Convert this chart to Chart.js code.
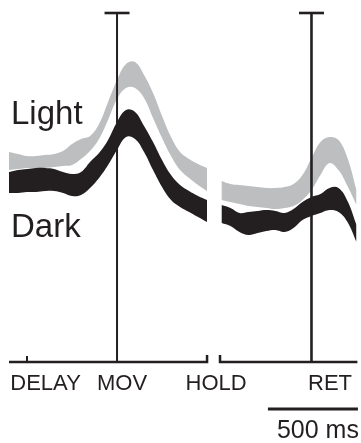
<!DOCTYPE html>
<html>
<head>
<meta charset="utf-8">
<script src="https://cdn.jsdelivr.net/npm/chart.js@4"></script>
<style>
  html, body { margin: 0; padding: 0; background: #ffffff; }
  #wrap { width: 361px; height: 443px; }
</style>
</head>
<body>
<div id="wrap"><canvas id="bandChart" width="361" height="443"></canvas></div>
<script>
// Time axis in ms, MOV = 0. The right block (around RET) is drawn after a small gap.
const leftTimes = [-600, -550, -500, -450, -400, -350, -300, -250, -200, -150, -100, -50,
                   0, 50, 100, 150, 200, 250, 300, 350, 400, 450, 500];
const rightTimes = [580, 630, 680, 730, 780, 830, 880, 930, 980, 1030, 1080, 1130, 1180, 1230, 1280, 1330];

// Light condition band (upper / lower edge)
const lightLeftHigh = [21.0, 20.8, 20.6, 20.6, 20.7, 20.8, 21.1, 21.8, 22.3, 22.6, 23.8, 26.0,
                       28.2, 29.8, 30.0, 28.7, 26.9, 24.6, 22.5, 21.0, 20.3, 19.8, 19.4];
const lightLeftLow = [19.2, 19.3, 19.4, 19.4, 19.4, 19.5, 19.6, 19.7, 20.3, 21.1, 22.3, 24.2,
                      26.3, 27.4, 27.4, 26.4, 24.4, 22.4, 20.6, 19.2, 18.4, 17.7, 17.1];
const lightRightHigh = [18.1, 17.8, 17.7, 17.6, 17.5, 17.4, 17.4, 17.5, 17.8, 18.7, 20.4, 22.0, 22.5, 22.2, 20.4, 17.2];
const lightRightLow = [16.2, 16.0, 15.8, 15.6, 15.5, 15.4, 15.3, 15.4, 15.6, 16.2, 17.2, 18.7, 19.9, 19.2, 17.6, 15.7];

// Dark condition band (upper / lower edge)
const darkLeftHigh = [19.0, 19.2, 19.3, 19.4, 19.4, 19.3, 19.0, 18.8, 19.0, 20.0, 20.9, 22.2,
                      24.0, 25.2, 25.0, 23.6, 22.0, 20.2, 18.7, 17.7, 17.1, 16.6, 16.2];
const darkLeftLow = [16.9, 16.9, 17.0, 17.0, 17.1, 17.1, 16.9, 16.6, 16.7, 17.4, 18.4, 19.7,
                     21.2, 22.5, 22.3, 21.0, 19.2, 17.5, 16.2, 15.5, 15.0, 14.5, 14.0];
const darkRightHigh = [15.7, 15.4, 14.9, 15.0, 15.1, 15.2, 15.1, 14.9, 15.3, 16.0, 16.5, 16.8, 17.4, 17.4, 16.1, 13.7];
const darkRightLow = [13.9, 13.6, 13.0, 12.7, 12.9, 13.1, 13.2, 13.0, 13.4, 14.2, 14.6, 14.9, 15.2, 15.0, 14.0, 12.0];

// Events and axis pieces
const eventNames = ['DELAY', 'MOV', 'HOLD', 'RET'];
const eventTimes = [-500, 0, 500, 1080];
const eventLabelTimes = [-397, 28, 550, 1183];
const axisSegments = [[-600, 500], [572, 1335]];
const scaleBar = [838, 1338];

const LIGHT = '#bcbec0';
const DARK = '#231f20';
const FONT = '"Liberation Sans", Arial, Helvetica, sans-serif';

function pts(xs, ys) {
    return xs.map((x, i) => ({ x: x, y: ys[i] }));
}

function band(xs, hi, lo, color) {
    return [
        {
            data: pts(xs, hi),
            borderWidth: 0,
            pointRadius: 0,
            backgroundColor: color,
            borderColor: color,
            tension: 0.4,
            fill: '+1'
        },
        {
            data: pts(xs, lo),
            borderWidth: 0,
            pointRadius: 0,
            borderColor: color,
            tension: 0.4,
            fill: false
        }
    ];
}

// Axis, event markers and text labels
const decorPlugin = {
    id: 'decor',
    afterDatasetsDraw(chart) {
        const { ctx, scales: { x, y } } = chart;
        const y0 = y.getPixelForValue(0);
        const yTop = y.getPixelForValue(34.9);
        ctx.save();
        ctx.strokeStyle = DARK;
        ctx.fillStyle = DARK;

        // baseline segments with end ticks
        ctx.lineWidth = 2.5;
        ctx.lineCap = 'butt';
        axisSegments.forEach((seg, i) => {
            const a = x.getPixelForValue(seg[0]);
            const b = x.getPixelForValue(seg[1]);
            ctx.beginPath();
            if (i === 0) {
                ctx.moveTo(a, y0);
                ctx.lineTo(b, y0);
                ctx.lineTo(b, y0 - 7);
            } else {
                ctx.moveTo(a, y0 - 7);
                ctx.lineTo(a, y0);
                ctx.lineTo(b, y0);
            }
            ctx.stroke();
        });

        // DELAY tick
        const xd = x.getPixelForValue(eventTimes[0]);
        ctx.lineWidth = 2;
        ctx.beginPath();
        ctx.moveTo(xd, y0);
        ctx.lineTo(xd, y0 - 6);
        ctx.stroke();

        // MOV and RET vertical lines with caps
        [[eventTimes[1], 2], [eventTimes[3], 2.6]].forEach(([t, w]) => {
            const xp = x.getPixelForValue(t);
            ctx.lineWidth = w;
            ctx.beginPath();
            ctx.moveTo(xp, y0);
            ctx.lineTo(xp, yTop);
            ctx.stroke();
            ctx.lineWidth = 2.6;
            ctx.beginPath();
            ctx.moveTo(xp - 12.5, yTop);
            ctx.lineTo(xp + 12.5, yTop);
            ctx.stroke();
        });

        // event labels
        ctx.font = '22px ' + FONT;
        ctx.textAlign = 'center';
        ctx.textBaseline = 'alphabetic';
        eventNames.forEach((name, i) => {
            ctx.fillText(name, x.getPixelForValue(eventLabelTimes[i]), y0 + 28);
        });

        // 500 ms scale bar
        const s0 = x.getPixelForValue(scaleBar[0]);
        const s1 = x.getPixelForValue(scaleBar[1]);
        ctx.lineWidth = 3;
        ctx.beginPath();
        ctx.moveTo(s0, y0 + 47);
        ctx.lineTo(s1, y0 + 47);
        ctx.stroke();
        ctx.font = '25px ' + FONT;
        ctx.textAlign = 'right';
        ctx.fillText('500 ms', s1 + 1, y0 + 76);

        // condition labels
        ctx.font = '33px ' + FONT;
        ctx.textAlign = 'left';
        ctx.fillText('Light', 11, 124);
        ctx.fillText('Dark', 11, 237);

        ctx.restore();
    }
};

const ctx = document.getElementById('bandChart').getContext('2d');
new Chart(ctx, {
    type: 'line',
    data: {
        datasets: [
            ...band(leftTimes, darkLeftHigh, darkLeftLow, DARK),
            ...band(rightTimes, darkRightHigh, darkRightLow, DARK),
            ...band(leftTimes, lightLeftHigh, lightLeftLow, LIGHT),
            ...band(rightTimes, lightRightHigh, lightRightLow, LIGHT)
        ]
    },
    plugins: [decorPlugin],
    options: {
        responsive: false,
        animation: false,
        layout: { padding: { left: 9, right: 0, top: 12, bottom: 81 } },
        plugins: {
            legend: { display: false },
            tooltip: { enabled: false }
        },
        scales: {
            x: { type: 'linear', min: -600, max: 1355, display: false },
            y: { min: 0, max: 35, display: false }
        }
    }
});
</script>
</body>
</html>
